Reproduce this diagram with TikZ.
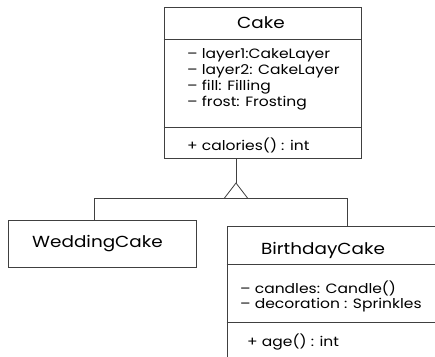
\documentclass[tikz,border=0pt]{standalone}
\usepackage{fontspec}
\setmainfont{Poppins}[FakeStretch=1.15]
\usetikzlibrary{calc}
\begin{document}
\begin{tikzpicture}[x=1pt,y=-1pt,
  ln/.style={draw=black!75, line width=0.8pt},
  box/.style={ln, rectangle, inner sep=0pt, fill=white},
  txt/.style={anchor=west, inner sep=0pt, font=\fontsize{13.5}{16}\selectfont},
  ttl/.style={inner sep=0pt, font=\fontsize{16}{18}\selectfont}]
\useasboundingbox (0,0) rectangle (435,356);
\clip (0,0) rectangle (435,356);
% Cake
\node[box, minimum width=197pt, minimum height=151pt] (cake) at (262.5,82.5) {};
\node[ttl] (caket) at (261,23) {Cake};
\draw[ln] (cake.west |- 0,39) -- (cake.east |- 0,39);
\draw[ln] (cake.west |- 0,127) -- (cake.east |- 0,127);
\node[txt] (a1) at (187,55) {– layer1:CakeLayer};
\node[txt] (a2) at (187,71) {– layer2: CakeLayer};
\node[txt] (a3) at (187,87) {– fill: Filling};
\node[txt] (a4) at (187,103) {– frost: Frosting};
\node[txt] (m1) at (187,145) {+ calories() : int};
% WeddingCake
\node[box, minimum width=188pt, minimum height=47pt] (wed) at (102,243.5) {};
\node[ttl] (wedt) at (97.5,243.5) {WeddingCake};
% BirthdayCake
\node[box, minimum width=218pt, minimum height=144pt] (bday) at (336,298) {};
\node[ttl] (bdayt) at (323,250) {BirthdayCake};
\draw[ln] (bday.west |- 0,264) -- (bday.east |- 0,264);
\draw[ln] (bday.west |- 0,322) -- (bday.east |- 0,322);
\node[txt] (b1) at (240,288) {– candles: Candle()};
\node[txt] (b2) at (240,305) {– decoration : Sprinkles};
\node[txt] (b3) at (247,342) {+ age() : int};
% inheritance
\coordinate (apex) at (236,183);
\coordinate (wj) at (94,198);
\coordinate (bj) at (347,198);
\draw[ln] (apex |- cake.south) -- (apex);
\draw[ln, line join=miter] ($(apex)+(-11.5,15)$) -- (apex) -- ($(apex)+(11.5,15)$);
\draw[ln] (wj |- wed.north) -- (wj) -- (bj) -- (bj |- bday.north);
\end{tikzpicture}
\end{document}
